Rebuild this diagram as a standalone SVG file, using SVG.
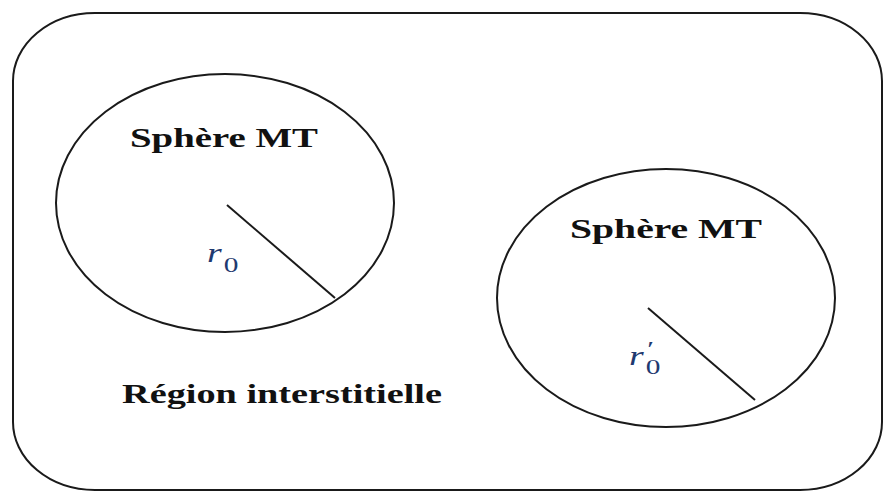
<svg xmlns="http://www.w3.org/2000/svg" width="883" height="492" viewBox="0 0 883 492">
<style>
.shape{fill:none;stroke:#1a1a1a;stroke-width:2}
.title{font-family:"Liberation Serif","Times New Roman",serif;font-weight:bold;font-size:28px;fill:#111}
.math{font-family:"Liberation Serif","Times New Roman",serif;fill:#1f3a70}
</style>
<rect width="883" height="492" fill="#fff"/>
<g id="region">
<rect class="shape" x="13" y="13" width="869" height="477" rx="82" ry="68"/>
<text class="title" x="122" y="403" textLength="320" lengthAdjust="spacingAndGlyphs">Région interstitielle</text>
</g>
<g id="sphere1">
<ellipse class="shape" cx="225" cy="203" rx="169" ry="129"/>
<text class="title" x="130" y="147" textLength="188" lengthAdjust="spacingAndGlyphs">Sphère MT</text>
<g transform="translate(207,262) scale(1.4,1)">
<text class="math" x="0" y="0" font-size="27"><tspan font-style="italic">r</tspan><tspan x="12" y="10" font-size="21">0</tspan></text>
</g>
</g>
<g id="sphere2">
<ellipse class="shape" cx="666" cy="298" rx="169" ry="129"/>
<text class="title" x="570" y="238" textLength="192" lengthAdjust="spacingAndGlyphs">Sphère MT</text>
<g transform="translate(629,365) scale(1.4,1)">
<text class="math" x="0" y="0" font-size="27"><tspan font-style="italic">r</tspan><tspan x="13" y="-9" font-size="22">′</tspan><tspan x="12" y="9" font-size="21">0</tspan></text>
</g>
</g>
<g id="connectors">
<line class="shape" x1="227" y1="205" x2="335" y2="298"/>
<line class="shape" x1="648" y1="308" x2="755" y2="400"/>
</g>
</svg>
